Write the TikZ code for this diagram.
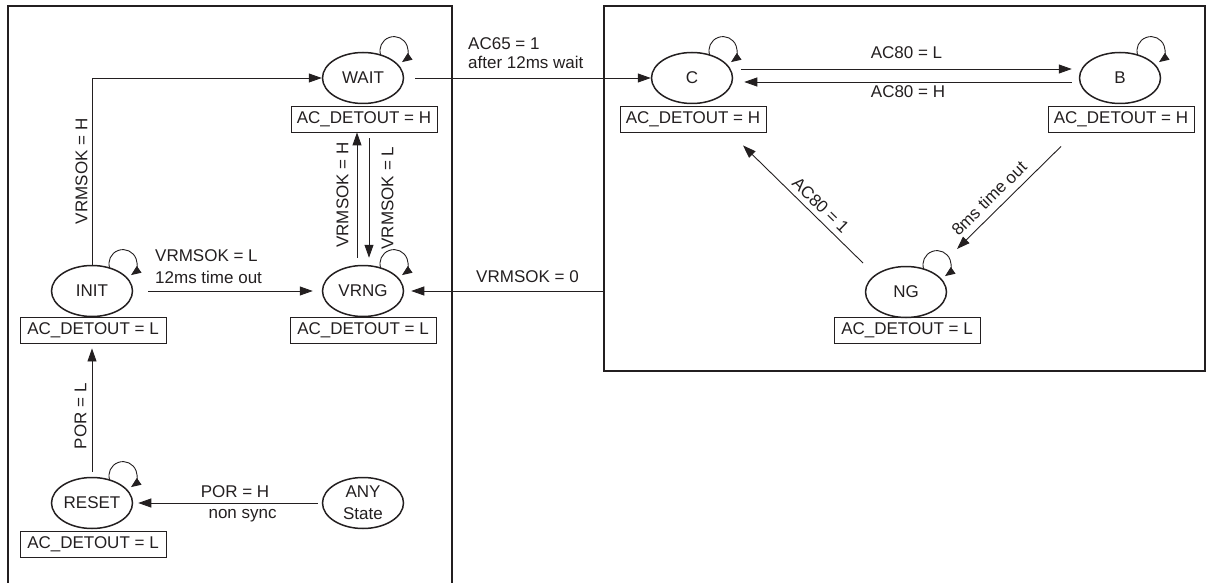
\documentclass[tikz,border=0pt]{standalone}
\usepackage{fontspec}
\setmainfont{Liberation Sans}
\usetikzlibrary{arrows.meta,shapes.geometric}
\definecolor{ink}{RGB}{35,31,32}
\newcommand\stloop[1]{\draw[looparr] ([shift={(17.8,22.6)}]#1.center) arc[start angle=200,end angle=-55,radius=14];}
\begin{document}
\begin{tikzpicture}[x=1pt,y=1pt,
  every node/.style={font=\fontsize{17}{22}\selectfont, text=ink},
  st/.style={ellipse, draw=ink, line width=1.5pt, minimum width=81pt, minimum height=51pt, inner sep=0pt},
  outbox/.style={draw=ink, line width=0.9pt, minimum width=146pt, minimum height=26pt, inner sep=0pt},
  arr/.style={draw=ink, line width=0.9pt, -{Triangle[length=13pt,width=9pt]}},
  looparr/.style={draw=ink, line width=0.9pt, -{Triangle[length=10pt,width=8pt]}},
  frame/.style={draw=ink, line width=2pt},
  lbl/.style={inner sep=1pt},
  vlbl/.style={rotate=90, inner sep=4pt},
]
\useasboundingbox (0,0) rectangle (1207,582);

% frames
\draw[frame] (8,-5) -- (8,576) -- (452,576) -- (452,-5);
\node[frame, minimum width=601pt, minimum height=365pt, inner sep=0pt] (rbox) at (904.5,393.5) {};

% states
\node[st] (WAIT) at (363,504) {WAIT};
\node[outbox] (WAITo) at (364,463) {AC\_DETOUT = H};
\node[st] (INIT) at (92,291) {INIT};
\node[outbox] (INITo) at (93,252) {AC\_DETOUT = L};
\node[st] (VRNG) at (363,291) {VRNG};
\node[outbox] (VRNGo) at (363,252) {AC\_DETOUT = L};
\node[st] (RESET) at (92,79) {RESET};
\node[outbox] (RESETo) at (93,38) {AC\_DETOUT = L};
\node[st, align=center] (ANY) at (363,79) {ANY\\State};
\node[st] (C) at (692,504) {C};
\node[outbox] (Co) at (693,463) {AC\_DETOUT = H};
\node[st] (B) at (1120,504) {B};
\node[outbox] (Bo) at (1121,463) {AC\_DETOUT = H};
\node[st] (NG) at (906,290) {NG};
\node[outbox] (NGo) at (907,252) {AC\_DETOUT = L};

% self loops
\stloop{WAIT}
\stloop{INIT}
\stloop{VRNG}
\stloop{RESET}
\stloop{C}
\stloop{B}
\stloop{NG}

% transitions
\draw[arr] (INIT.north) |- node[pos=.25, vlbl, anchor=south] {VRMSOK = H} (WAIT.west);

\draw[arr, shorten <=15pt, shorten >=9pt] (INIT) -- (VRNG);
\node[lbl, anchor=base west] at (154,321) {VRMSOK = L};
\node[lbl, anchor=base west] at (154,299) {12ms time out};

\draw[arr] ([shift={(-6,7)}]VRNG.north) -- node[midway, rotate=90, anchor=south, inner sep=8pt] {VRMSOK = H} ([xshift=-7pt]WAITo.south);
\draw[arr] ([shift={(5,-6)}]WAITo.south) -- node[midway, rotate=90, anchor=north, inner sep=12pt] {VRMSOK = L} ([shift={(6,7)}]VRNG.north);

\draw[arr, shorten <=11pt] (WAIT.east) -- (C.west);
\node[lbl, anchor=base west] at (467,532) {AC65 = 1};
\node[lbl, anchor=base west] at (467,513) {after 12ms wait};

\draw[arr] ([shift={(8,9)}]C.east) -- node[lbl, above=9pt] {AC80 = L} ([shift={(-7,9)}]B.west);
\draw[arr] ([shift={(-7,-4)}]B.west) -- node[lbl, below=2.5pt] {AC80 = H} ([shift={(11,-4)}]C.east);

\draw[arr] ([shift={(-60,-14)}]Bo.south) -- node[pos=.6, sloped, above, inner sep=7pt] {8ms time out} ([shift={(51,43)}]NG.center);
\draw[arr] ([shift={(-43,29)}]NG.center) -- node[pos=.42, sloped, above, inner sep=5pt] {AC80 = 1} ([shift={(50,-13)}]Co.south);

\draw[arr, shorten >=7pt] (rbox.west |- VRNG.east) -- node[pos=.38, lbl, above=7pt] {VRMSOK = 0} (VRNG.east);

\draw[arr, shorten <=4pt, shorten >=5pt] (ANY) -- node[pos=.46, lbl, above=3.5pt] {POR = H} node[pos=.42, lbl, below=5pt] {non sync} (RESET);

\draw[arr] ([yshift=5pt]RESET.north) -- node[pos=.45, vlbl, anchor=south, inner sep=5pt] {POR = L} ([yshift=-5pt]RESET.north |- INITo.south);
\end{tikzpicture}
\end{document}
